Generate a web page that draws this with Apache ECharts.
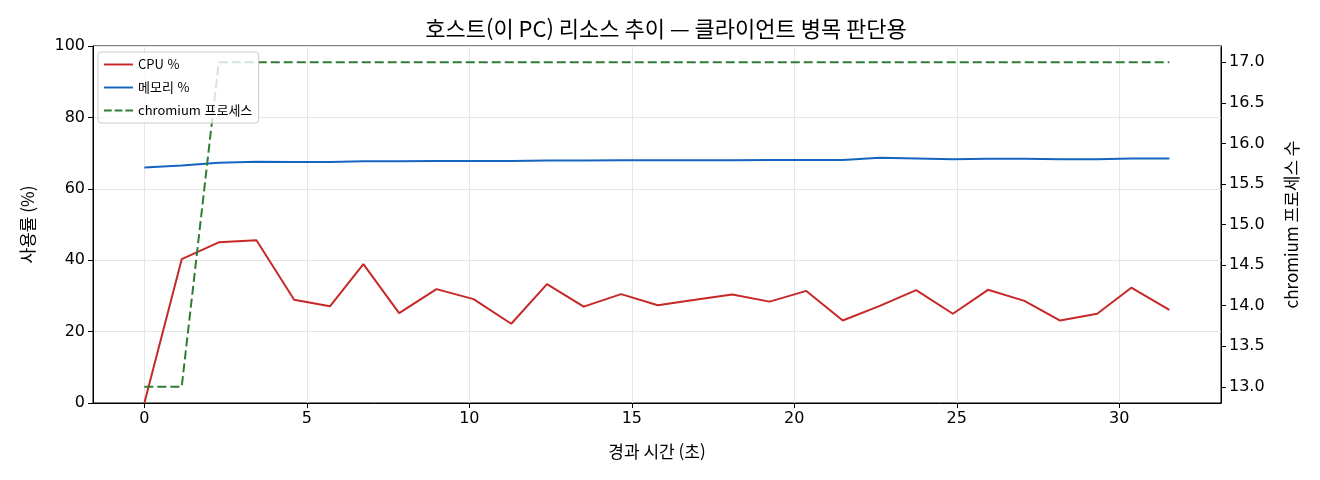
<!DOCTYPE html>
<html lang="ko">
<head>
	<meta charset="UTF-8">
	<title>호스트 리소스 추이</title>
	<script src="https://cdn.jsdelivr.net/npm/echarts@6/dist/echarts.min.js"></script>
	<style>
		html,body{margin:0;padding:0;background:#fff;}
		#chart{width:1320px;height:480px;}
	</style>
</head>
<body>
	<div id="chart"></div>
	<script type="text/javascript">
		// 경과 시간 (초)
		var timeSec = [0, 1.15, 2.29, 3.45, 4.61, 5.71, 6.74, 7.84, 8.99, 10.13, 11.29, 12.39, 13.52, 14.67,
			15.8, 16.95, 18.09, 19.24, 20.37, 21.49, 22.63, 23.75, 24.88, 25.96, 27.08, 28.18, 29.32, 30.37, 31.54];
		var cpuPct = [0, 40.3, 45.0, 45.6, 28.9, 27.1, 38.9, 25.2, 31.9, 29.1, 22.2, 33.3, 27.0, 30.5,
			27.4, 28.9, 30.4, 28.4, 31.4, 23.1, 27.2, 31.6, 25.0, 31.7, 28.6, 23.1, 25.0, 32.3, 26.1];
		var memPct = [66.0, 66.5, 67.3, 67.6, 67.5, 67.5, 67.7, 67.7, 67.8, 67.8, 67.8, 67.9, 67.9, 68.0,
			68.0, 68.0, 68.0, 68.1, 68.1, 68.1, 68.7, 68.5, 68.3, 68.4, 68.4, 68.3, 68.3, 68.5, 68.5];
		var chromiumProcs = [13, 13, 17, 17, 17, 17, 17, 17, 17, 17, 17, 17, 17, 17,
			17, 17, 17, 17, 17, 17, 17, 17, 17, 17, 17, 17, 17, 17, 17];
		var xTicks = [0, 5, 10, 15, 20, 25, 30];
		var rightTicks = [13, 13.5, 14, 14.5, 15, 15.5, 16, 16.5, 17];

		function zip(xs, ys) {
			var out = [];
			for (var i = 0; i < xs.length; i++) out.push([xs[i], ys[i]]);
			return out;
		}

		var FONT = '"Noto Sans CJK KR", "DejaVu Sans", sans-serif';
		var NUMFONT = '"DejaVu Sans", sans-serif';
		// 범례 아이콘: 실선 / 점선
		var SOLID = 'path://M0,0H30V2H0Z';
		var DASHED = 'path://M0,0H8V2H0Z M11,0H19V2H11Z M22,0H30V2H22Z';

		var myChart = echarts.init(document.getElementById('chart'));
		var option = {
			animation: false,
			textStyle: { fontFamily: FONT, color: '#000' },
			title: {
				text: '호스트(이 PC) 리소스 추이 — 클라이언트 병목 판단용',
				left: 661, top: 13, textAlign: 'center',
				textStyle: { fontSize: 22, fontWeight: 'normal', color: '#000', fontFamily: FONT }
			},
			legend: {
				orient: 'vertical', left: 98, top: 52,
				itemWidth: 29, itemHeight: 14, itemGap: 10,
				padding: [6, 7, 6, 6],
				borderColor: '#cccccc', borderWidth: 1, borderRadius: 3,
				backgroundColor: 'rgba(255,255,255,0.8)',
				textStyle: { fontSize: 13, color: '#000', fontFamily: FONT },
				data: [
					{ name: 'CPU %', icon: SOLID },
					{ name: '메모리 %', icon: SOLID },
					{ name: 'chromium 프로세스', icon: DASHED }
				]
			},
			grid: {
				left: 93, right: 99, top: 46, bottom: 77,
				show: true, borderColor: '#000', borderWidth: 1
			},
			xAxis: {
				type: 'value', min: -1.58, max: 33.13,
				name: '경과 시간 (초)', nameLocation: 'middle', nameGap: 40,
				nameTextStyle: { fontSize: 17, color: '#000' },
				axisLine: { show: true, onZero: false, lineStyle: { color: '#000' } },
				axisTick: { show: true, length: 5, customValues: xTicks, lineStyle: { color: '#000' } },
				axisLabel: { customValues: xTicks, fontSize: 16, fontFamily: NUMFONT, color: '#000', margin: 8 },
				splitLine: { show: true, lineStyle: { color: '#e6e6e6' } }
			},
			yAxis: [{
				type: 'value', min: 0, max: 100, interval: 20,
				name: '사용률 (%)', nameLocation: 'middle', nameGap: 57, nameRotate: 90,
				nameTextStyle: { fontSize: 17, color: '#000' },
				axisLine: { show: true, onZero: false, lineStyle: { color: '#000' } },
				axisTick: { show: true, length: 5, lineStyle: { color: '#000' } },
				axisLabel: { fontSize: 16, fontFamily: NUMFONT, color: '#000', margin: 8 },
				splitLine: { show: true, lineStyle: { color: '#e6e6e6' } }
			}, {
				type: 'value', min: 12.8, max: 17.2, position: 'right',
				name: 'chromium 프로세스 수', nameLocation: 'middle', nameGap: 62, nameRotate: 90,
				nameTextStyle: { fontSize: 17, color: '#000' },
				axisLine: { show: true, onZero: false, lineStyle: { color: '#000' } },
				axisTick: { show: true, length: 5, customValues: rightTicks, lineStyle: { color: '#000' } },
				axisLabel: {
					customValues: rightTicks, fontSize: 16, fontFamily: NUMFONT, color: '#000', margin: 8,
					formatter: function (v) { return v.toFixed(1); }
				},
				splitLine: { show: false }
			}],
			series: [{
				name: 'CPU %', type: 'line', yAxisIndex: 0,
				data: zip(timeSec, cpuPct), showSymbol: false, symbol: 'none',
				lineStyle: { color: '#c62828', width: 2 }, itemStyle: { color: '#c62828' }
			}, {
				name: '메모리 %', type: 'line', yAxisIndex: 0,
				data: zip(timeSec, memPct), showSymbol: false, symbol: 'none',
				lineStyle: { color: '#1565c0', width: 2 }, itemStyle: { color: '#1565c0' }
			}, {
				name: 'chromium 프로세스', type: 'line', yAxisIndex: 1,
				data: zip(timeSec, chromiumProcs), showSymbol: false, symbol: 'none',
				lineStyle: { color: '#2e7d32', width: 2, type: [9, 4] }, itemStyle: { color: '#2e7d32' }
			}]
		};
		myChart.setOption(option);
	</script>
</body>
</html>
